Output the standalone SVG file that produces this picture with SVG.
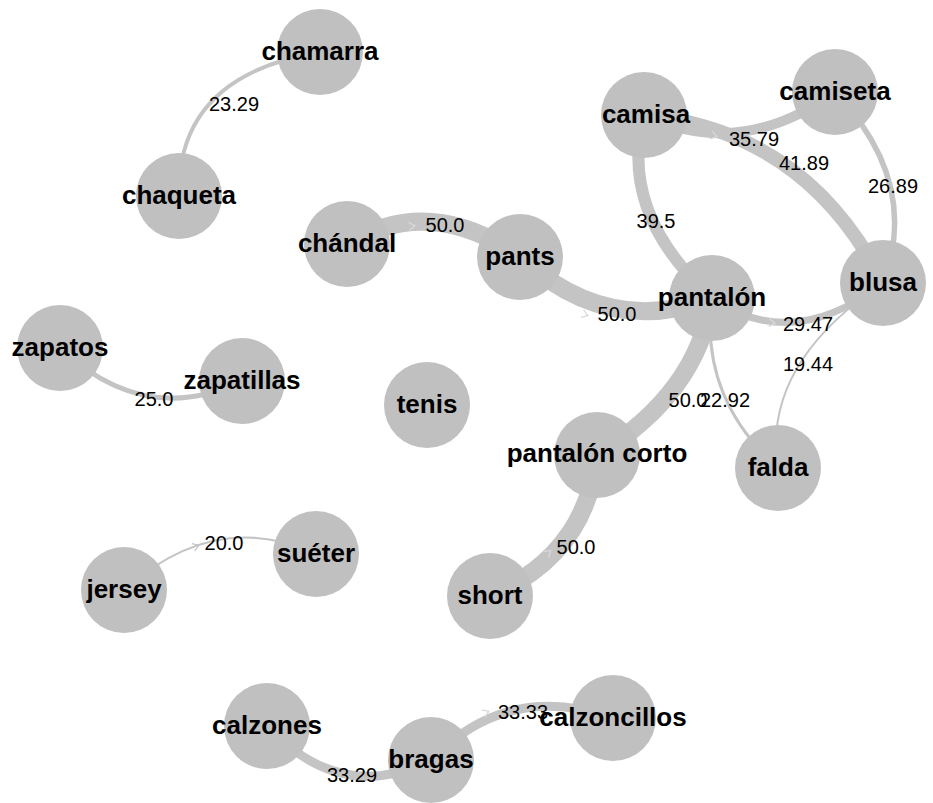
<svg xmlns="http://www.w3.org/2000/svg" width="933" height="803" viewBox="0 0 933 803">
<style>
.e{fill:none;stroke:#c4c4c4;stroke-linecap:butt}
.el{font-family:"Liberation Sans",Arial,sans-serif;font-size:20px;fill:#000;text-anchor:middle}
.n circle{fill:#c0c0c0}
.n text{font-family:"Liberation Sans",Arial,sans-serif;font-size:26px;font-weight:bold;fill:#000;text-anchor:middle}
.ar{fill:none;stroke:#d9d9d9;stroke-width:1.3}
</style>
<defs>
<path id="chev" d="M-4,-4 L2,0 L-4,4"/>
</defs>
<rect width="933" height="803" fill="#fff"/>
<g id="connectors">
<path class="e" stroke-width="4" d="M320,52 Q176.5,76 179,196"/>
<path class="e" stroke-width="10" d="M644,115 Q740.5,160.5 835,92"/>
<path class="e" stroke-width="14" d="M644,115 Q806.5,131 883,283"/>
<path class="e" stroke-width="12" d="M644,115 Q618,213.5 712,298"/>
<path class="e" stroke-width="5.5" d="M835,92 Q921,182.5 883,283"/>
<path class="e" stroke-width="18" d="M347,244 Q430.5,193.5 520,257"/>
<path class="e" stroke-width="18" d="M520,257 Q608,338 712,298"/>
<path class="e" stroke-width="7" d="M712,298 Q792.5,353.5 883,283"/>
<path class="e" stroke-width="18" d="M712,298 Q697.5,393.5 597,455"/>
<path class="e" stroke-width="3" d="M712,298 Q699,397 778,468"/>
<path class="e" stroke-width="2" d="M883,283 Q761.5,364.5 778,468"/>
<path class="e" stroke-width="18" d="M597,455 Q586.5,554.5 490,596"/>
<path class="e" stroke-width="5" d="M60,348 Q145,427.5 242,381"/>
<path class="e" stroke-width="2" d="M124,590 Q216,508 316,554"/>
<path class="e" stroke-width="9" d="M267,726 Q341,805 431,760"/>
<path class="e" stroke-width="9" d="M431,760 Q508,681 613,718"/>
<g class="ar">
<use href="#chev" transform="translate(413,226) rotate(-5)"/>
<use href="#chev" transform="translate(715,136) rotate(15)"/>
<use href="#chev" transform="translate(586,315) rotate(20)"/>
<use href="#chev" transform="translate(773,323) rotate(5)"/>
<use href="#chev" transform="translate(487,712) rotate(-25)"/>
<use href="#chev" transform="translate(549,552) rotate(-40)"/>
</g>
<use href="#chev" transform="translate(197,546) rotate(-20)" fill="none" stroke="#c4c4c4" stroke-width="1.1"/>
<text class="el" x="234" y="111">23.29</text>
<text class="el" x="754" y="146">35.79</text>
<text class="el" x="804" y="170">41.89</text>
<text class="el" x="656" y="228">39.5</text>
<text class="el" x="893" y="193">26.89</text>
<text class="el" x="445" y="232">50.0</text>
<text class="el" x="617" y="321">50.0</text>
<text class="el" x="808" y="331">29.47</text>
<text class="el" x="808" y="371">19.44</text>
<text class="el" x="688" y="407">50.0</text>
<text class="el" x="725" y="407">22.92</text>
<text class="el" x="576" y="554">50.0</text>
<text class="el" x="154" y="406">25.0</text>
<text class="el" x="224" y="550">20.0</text>
<text class="el" x="352" y="782">33.29</text>
<text class="el" x="523" y="719">33.33</text>
</g>
<g id="node-chamarra" class="n"><circle cx="320" cy="52" r="43"/><text x="320" y="60">chamarra</text></g>
<g id="node-chaqueta" class="n"><circle cx="179" cy="196" r="43"/><text x="179" y="204">chaqueta</text></g>
<g id="node-camisa" class="n"><circle cx="644" cy="115" r="43"/><text x="646" y="123">camisa</text></g>
<g id="node-camiseta" class="n"><circle cx="835" cy="92" r="43"/><text x="835" y="100">camiseta</text></g>
<g id="node-blusa" class="n"><circle cx="883" cy="283" r="43"/><text x="883" y="291">blusa</text></g>
<g id="node-chandal" class="n"><circle cx="347" cy="244" r="43"/><text x="347" y="252">chándal</text></g>
<g id="node-pants" class="n"><circle cx="520" cy="257" r="43"/><text x="520" y="265">pants</text></g>
<g id="node-pantalon" class="n"><circle cx="712" cy="298" r="43"/><text x="712" y="306">pantalón</text></g>
<g id="node-zapatos" class="n"><circle cx="60" cy="348" r="43"/><text x="60" y="356">zapatos</text></g>
<g id="node-zapatillas" class="n"><circle cx="242" cy="381" r="43"/><text x="242" y="389">zapatillas</text></g>
<g id="node-tenis" class="n"><circle cx="427" cy="405" r="43"/><text x="427" y="413">tenis</text></g>
<g id="node-pantalon-corto" class="n"><circle cx="597" cy="455" r="43"/><text x="597" y="462">pantalón corto</text></g>
<g id="node-falda" class="n"><circle cx="778" cy="468" r="43"/><text x="778" y="476">falda</text></g>
<g id="node-short" class="n"><circle cx="490" cy="596" r="43"/><text x="490" y="604">short</text></g>
<g id="node-jersey" class="n"><circle cx="124" cy="590" r="43"/><text x="124" y="598">jersey</text></g>
<g id="node-sueter" class="n"><circle cx="316" cy="554" r="43"/><text x="316" y="562">suéter</text></g>
<g id="node-calzones" class="n"><circle cx="267" cy="726" r="43"/><text x="267" y="734">calzones</text></g>
<g id="node-bragas" class="n"><circle cx="431" cy="760" r="43"/><text x="431" y="768">bragas</text></g>
<g id="node-calzoncillos" class="n"><circle cx="613" cy="718" r="43"/><text x="613" y="726">calzoncillos</text></g>
</svg>
